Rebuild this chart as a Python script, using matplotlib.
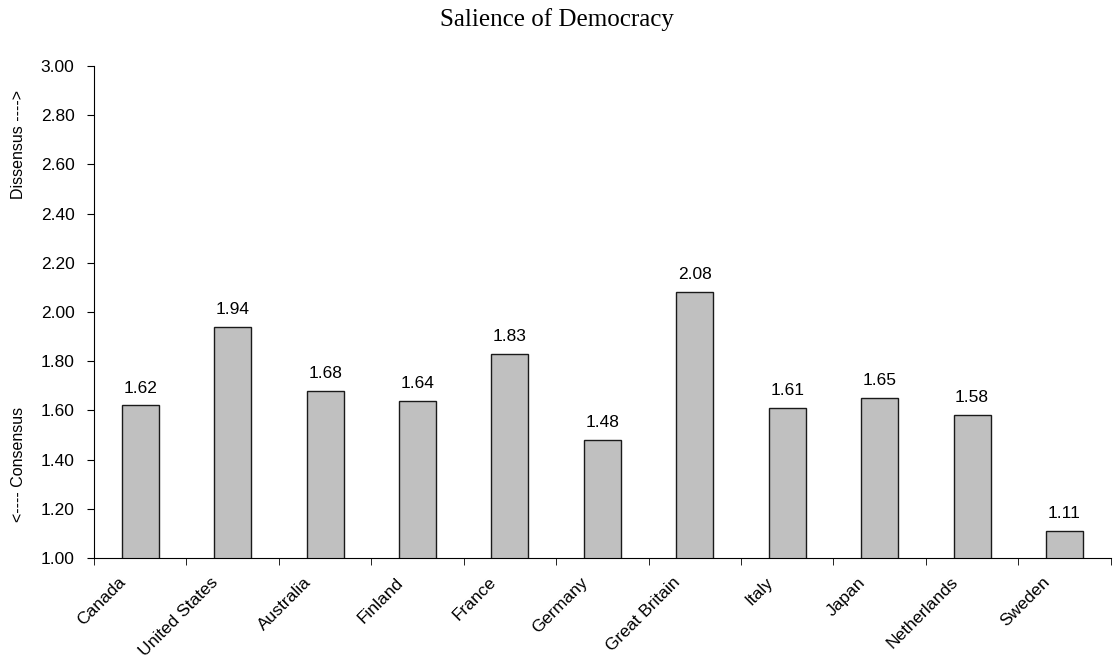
import numpy as np
import matplotlib.pyplot as plt
from matplotlib.transforms import ScaledTranslation

countries = ['Canada', 'United States', 'Australia', 'Finland', 'France', 'Germany',
             'Great Britain', 'Italy', 'Japan', 'Netherlands', 'Sweden']
values = [1.62, 1.94, 1.68, 1.64, 1.83, 1.48, 2.08, 1.61, 1.65, 1.58, 1.11]

plt.rcParams['font.family'] = ['Liberation Sans', 'DejaVu Sans']

fig = plt.figure(figsize=(11.14, 6.59), dpi=100)
ax = fig.add_axes([0.0844, 0.1533, 0.9126, 0.7465])

x = np.arange(len(countries))
bars = ax.bar(x, values, width=0.4, color='#c0c0c0', edgecolor='#1a1a1a', linewidth=1.0)
for xi, v in zip(x, values):
    ax.text(xi, v + 0.04, f'{v:.2f}', ha='center', va='bottom', fontsize=12.5)

ax.set_xlim(-0.5, len(countries) - 0.5)
ax.set_ylim(1.0, 3.0)
yt = np.arange(1.0, 3.01, 0.2)
ax.set_yticks(yt)
ax.set_yticklabels([f'{t:.2f}' for t in yt], fontsize=12.5)

ax.set_xticks(x)
ax.set_xticklabels(countries, rotation=45, ha='right', rotation_mode='anchor', fontsize=12.5)
ax.tick_params(axis='x', which='major', length=0, pad=12)
# shift the slanted labels a bit to the left, like the original
shift = ScaledTranslation(-22 / 100, 0, fig.dpi_scale_trans)
for lab in ax.get_xticklabels():
    lab.set_transform(lab.get_transform() + shift)
ax.set_xticks(np.arange(-0.5, len(countries)), minor=True)
ax.tick_params(axis='x', which='minor', length=5, direction='out')
ax.tick_params(axis='y', length=5, direction='out', pad=9)

ax.spines['top'].set_visible(False)
ax.spines['right'].set_visible(False)

fig.text(0.5, 0.97, 'Salience of Democracy', ha='center', va='center',
         fontsize=18, family='Liberation Serif')
fig.text(0.017, 0.78, 'Dissensus ---->', rotation=90, ha='center', va='center', fontsize=11.5)
fig.text(0.017, 0.295, '<---- Consensus', rotation=90, ha='center', va='center', fontsize=11.5)

fig.savefig('out.png', dpi=100)
